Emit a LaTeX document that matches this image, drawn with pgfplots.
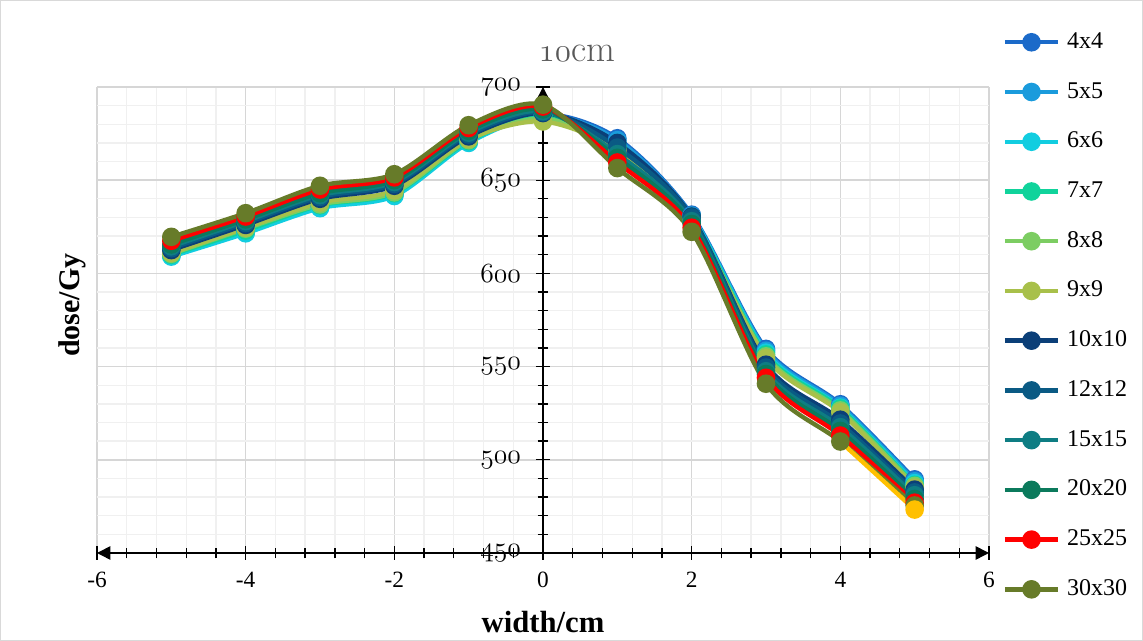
\documentclass[border=0pt]{standalone}
\usepackage{fontspec}
\setmainfont{Liberation Serif}
\usepackage{pgfplots}
\usepackage{pgfplotstable}
\pgfplotsset{compat=1.18}
\usetikzlibrary{arrows.meta}

\definecolor{cA}{HTML}{1B6AC9}
\definecolor{cB}{HTML}{1A9BDC}
\definecolor{cC}{HTML}{12CDE0}
\definecolor{cD}{HTML}{10D39B}
\definecolor{cE}{HTML}{7CCD62}
\definecolor{cF}{HTML}{A8C04A}
\definecolor{cG}{HTML}{0B3F78}
\definecolor{cH}{HTML}{0A5A84}
\definecolor{cI}{HTML}{0E7D83}
\definecolor{cJ}{HTML}{0B7A5C}
\definecolor{cK}{HTML}{FF0000}
\definecolor{cL}{HTML}{677B29}
\definecolor{cM}{HTML}{FFC000}

\pgfplotstableread{
x   a4    a5    a6    a7    a8    a9    a10   a12   a15   a20   a25   a30
-5  610   609.5 609   610   610.5 611   612.5 613.5 614.5 615.5 617.5 619.6
-4  622.5 622   621.5 623   624   624.5 626   627   628   629   630.5 632.3
-3  636   635.5 635   636.5 637   638   640   641   642   643   645   647
-2  642.5 642   641.5 643   643.5 644.5 647   648   649   650   651.5 653.2
-1  671   670.5 670   671   671.5 672   673.5 674.5 675.5 676.5 678   679.5
0   685.5 685   684.5 684   683   681.5 686   686.5 687   688   689.5 690.5
1   672.5 671.5 670   668   667   666   670   667.5 664   662   659.5 656.5
2   631.5 631   630.5 629.5 629   628.5 630.5 630   628   626.5 624.5 622.3
3   559.5 558.5 557.5 556.5 555.5 554.5 551   549.5 547.5 546   544   540.8
4   529.8 529   528   527.5 526.5 525.5 521.5 519.5 517.5 515.5 513   509.8
5   489.5 488.5 487.5 486.5 486   485   484   482.5 481   479   477   475.5
}\dosetable

\begin{document}
\begin{tikzpicture}
\useasboundingbox (0,0) rectangle (857.25pt,480.75pt);
\draw[color=black!15, line width=0.75pt] (0.5pt,0.5pt) rectangle (856.75pt,480.25pt);
\begin{axis}[
  at={(72.75pt,66pt)}, anchor=south west,
  scale only axis, width=669pt, height=349.5pt,
  xmin=-6, xmax=6, ymin=450, ymax=700,
  xtick={-6,-4,...,6}, ytick={450,500,...,700},
  minor x tick num=4, minor y tick num=4,
  axis x line=bottom, axis y line=middle,
  hide obscured x ticks=false, hide obscured y ticks=false,
  x axis line style={line width=1.2pt, {Triangle[width=10pt,length=10pt]}-{Triangle[width=10pt,length=10pt]}},
  y axis line style={line width=1.2pt, -{Triangle[width=10pt,length=10pt]}},
  grid=both,
  major grid style={draw=black!16, line width=1.2pt},
  minor grid style={draw=black!6, line width=1pt},
  tick align=center,
  major tick length=10pt, minor tick length=8pt,
  tick style={black, line width=1pt},
  /pgf/number format/assume math mode=true,
  xticklabel style={font=\fontsize{17.5}{17.5}\selectfont, yshift=-6pt},
  yticklabel style={font=\fontsize{20}{20}\selectfont, xshift=-8pt},
  yticklabel={$\mathnormal{\pgfmathprintnumber{\tick}}$},
  ylabel={dose/Gy}, xlabel={width/cm},
  every axis y label/.style={at={(rel axis cs:-0.028,0.532)}, rotate=90, anchor=center, font=\bfseries\fontsize{22.5}{22.5}\selectfont},
  every axis x label/.style={at={(rel axis cs:0.5,-0.148)}, anchor=center, font=\bfseries\fontsize{23}{23}\selectfont},
  title={$\mathnormal{10}$cm},
  title style={at={(rel axis cs:0.538,1.055)}, anchor=center, text=black!65, font=\fontfamily{lmr}\selectfont\fontsize{28}{28}\selectfont},
  legend style={at={(rel axis cs:1.015,1.118)}, anchor=north west, draw=none, fill=none,
    font=\fontsize{18}{18}\selectfont, row sep=22.3pt, inner sep=0pt,
    nodes={inner sep=0pt, text height=12pt, text depth=3pt}},
  legend cell align=left,
  /tikz/every odd column/.append style={column sep=5pt},
  legend image code/.code={\draw[#1, mark repeat=2, mark phase=2] plot coordinates {(0pt,0pt) (20pt,0pt) (40pt,0pt)};},
  every axis plot/.append style={line width=3.3pt, smooth, mark=*, mark size=5.3pt},
  clip=false,
]
\addplot[color=cA, mark options={fill=cA}] table[x=x,y=a4] {\dosetable}; \addlegendentry{4x4}
\addplot[color=cB, mark options={fill=cB}] table[x=x,y=a5] {\dosetable}; \addlegendentry{5x5}
\addplot[color=cC, mark options={fill=cC}] table[x=x,y=a6] {\dosetable}; \addlegendentry{6x6}
\addplot[color=cD, mark options={fill=cD}] table[x=x,y=a7] {\dosetable}; \addlegendentry{7x7}
\addplot[color=cE, mark options={fill=cE}] table[x=x,y=a8] {\dosetable}; \addlegendentry{8x8}
\addplot[color=cF, mark options={fill=cF}] table[x=x,y=a9] {\dosetable}; \addlegendentry{9x9}
\addplot[color=cG, mark options={fill=cG}] table[x=x,y=a10] {\dosetable}; \addlegendentry{10x10}
\addplot[color=cH, mark options={fill=cH}] table[x=x,y=a12] {\dosetable}; \addlegendentry{12x12}
\addplot[color=cI, mark options={fill=cI}] table[x=x,y=a15] {\dosetable}; \addlegendentry{15x15}
\addplot[color=cJ, mark options={fill=cJ}] table[x=x,y=a20] {\dosetable}; \addlegendentry{20x20}
\addplot[color=cK, mark options={fill=cK}] table[x=x,y=a25] {\dosetable}; \addlegendentry{25x25}
\addplot[color=cL, mark options={fill=cL}] table[x=x,y=a30] {\dosetable}; \addlegendentry{30x30}
\addplot[color=cM, mark options={fill=cM}, mark indices={2}, forget plot] coordinates {(4,509.8) (5,473.3)};
\end{axis}
\end{tikzpicture}
\end{document}
